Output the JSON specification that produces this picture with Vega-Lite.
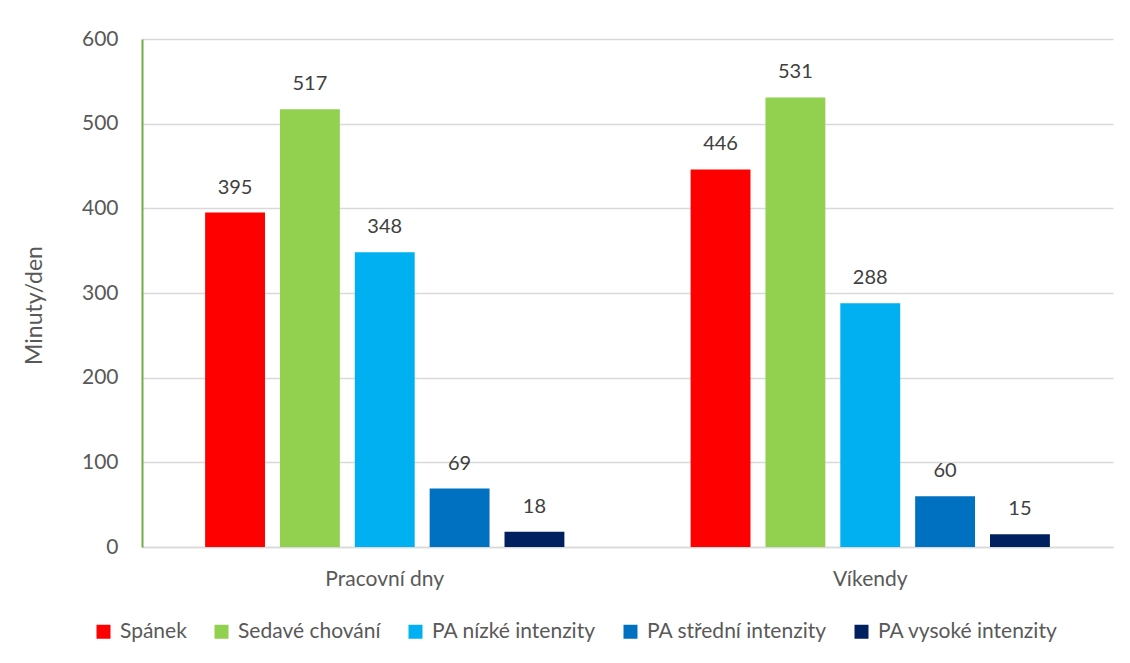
{
  "$schema": "https://vega.github.io/schema/vega-lite/v6.json",
  "autosize": {"type": "none"},
  "width": 971,
  "height": 508,
  "padding": {"left": 142, "top": 39, "right": 17, "bottom": 116},
  "background": "white",
  "config": {
    "font": "Lato",
    "view": {"stroke": null},
    "axis": {"labelFont": "Lato", "titleFont": "Lato"},
    "axisY": {"titleFontSize": 23}
  },
  "data": {
    "values": [
      {"den": "Pracovní dny", "kategorie": "Spánek", "min": 395},
      {"den": "Pracovní dny", "kategorie": "Sedavé chování", "min": 517},
      {"den": "Pracovní dny", "kategorie": "PA nízké intenzity", "min": 348},
      {"den": "Pracovní dny", "kategorie": "PA střední intenzity", "min": 69},
      {"den": "Pracovní dny", "kategorie": "PA vysoké intenzity", "min": 18},
      {"den": "Víkendy", "kategorie": "Spánek", "min": 446},
      {"den": "Víkendy", "kategorie": "Sedavé chování", "min": 531},
      {"den": "Víkendy", "kategorie": "PA nízké intenzity", "min": 288},
      {"den": "Víkendy", "kategorie": "PA střední intenzity", "min": 60},
      {"den": "Víkendy", "kategorie": "PA vysoké intenzity", "min": 15}
    ]
  },
  "encoding": {
    "x": {
      "field": "den", "type": "nominal", "sort": null,
      "scale": {"paddingInner": 0.26, "paddingOuter": 0.13},
      "axis": {"title": null, "labelAngle": 0, "ticks": false, "domainColor": "#D9D9D9", "domainWidth": 1.5,
               "labelFontSize": 21, "labelColor": "#595959", "labelPadding": 21}
    },
    "xOffset": {
      "field": "kategorie", "type": "nominal", "sort": null,
      "scale": {"paddingInner": 0.2, "paddingOuter": 0}
    },
    "y": {
      "field": "min", "type": "quantitative",
      "scale": {"domain": [0, 600]},
      "axis": {
        "title": "Minuty/den", "values": [0, 100, 200, 300, 400, 500, 600],
        "labelOverlap": false,
        "ticks": false, "domainColor": "#70AD47", "domainWidth": 2,
        "gridColor": "#D9D9D9", "gridWidth": 1.5,
        "labelFontSize": 21, "labelColor": "#595959", "labelPadding": 24,
        "titleFontSize": 23, "titleColor": "#595959", "titleFontWeight": "normal",
        "titleX": -108, "titleY": 266, "titleBaseline": "middle", "titleAlign": "center", "titleAngle": -90
      }
    }
  },
  "layer": [
    {
      "mark": {"type": "bar"},
      "encoding": {
        "color": {
          "field": "kategorie", "type": "nominal", "sort": null,
          "scale": {
            "domain": ["Spánek", "Sedavé chování", "PA nízké intenzity", "PA střední intenzity", "PA vysoké intenzity"],
            "range": ["#FF0000", "#92D050", "#00B0F0", "#0070C0", "#002060"]
          },
          "legend": {
            "title": null, "orient": "none", "direction": "horizontal",
            "legendX": -49, "legendY": 582,
            "symbolType": "square", "symbolSize": 196, "symbolStrokeWidth": 0, "symbolOpacity": 1,
            "labelFontSize": 21, "labelColor": "#595959", "labelOffset": 6, "labelLimit": 400,
            "columnPadding": 24
          }
        }
      }
    },
    {
      "mark": {"type": "text", "baseline": "middle", "dy": -25, "fontSize": 20, "color": "#404040"},
      "encoding": {
        "text": {"field": "min", "type": "quantitative"}
      }
    }
  ]
}
